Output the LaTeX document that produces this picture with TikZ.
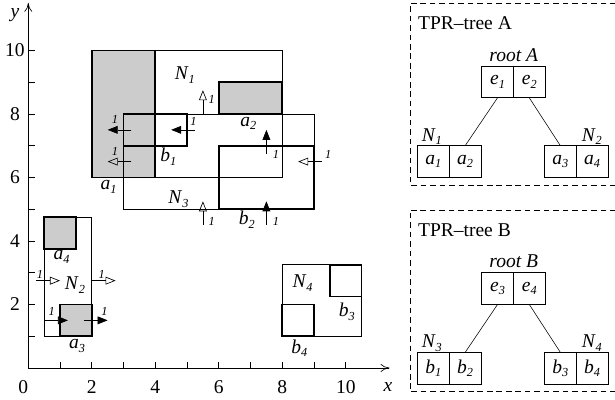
\documentclass[tikz,border=0pt]{standalone}
\usepackage{fontspec}
\setmainfont{Liberation Serif}
\usepackage{tikz}
\usetikzlibrary{arrows.meta, positioning}

\newcommand{\ixl}[2]{\textit{#1}\raisebox{-0.4ex}{\fontsize{11}{11}\selectfont\textit{#2}}}

\begin{document}
\begin{tikzpicture}[
  lab/.style      = {inner sep=0pt, font=\fontsize{17.5}{17.5}\selectfont},
  mbr/.style      = {draw, line width=0.6pt},
  obj/.style      = {draw, line width=1.5pt},
  objfill/.style  = {fill=black!20},
  velblack/.style = {-{Triangle[length=9pt,width=7pt]}, line width=0.6pt},
  velopen/.style  = {-{Triangle[open,length=9pt,width=7pt]}, line width=0.6pt},
  vnum/.style     = {inner sep=0pt, font=\fontsize{11}{11}\selectfont\itshape},
  cell/.style     = {draw, line width=0.6pt, minimum size=1.0cm, inner sep=0pt,
                     outer sep=0pt, font=\fontsize{17.5}{17.5}\selectfont},
  treebox/.style  = {draw, line width=0.6pt, dash pattern=on 5pt off 3.5pt},
  axis/.style     = {-{To[length=8pt,width=7pt]}, line width=0.6pt},
]
\useasboundingbox (-0.891,-1.008) rectangle (18.48,11.59);

%% axes
\draw[axis] (0,0) -- (11.38,0);
\draw[axis] (0,0) -- (0,11.5);
\foreach \t in {1,...,10} {
  \draw[line width=0.6pt] (\t,0) -- (\t,0.2);
  \draw[line width=0.6pt] (0,\t) -- (0.2,\t);
}
\foreach \t in {2,4,...,10} {
  \node[lab] (xt\t) at (\t,-0.59) {\t};
  \node[lab] (yt\t) at (-0.42,\t) {\t};
}
\node[lab] (zero) at (-0.16,-0.59) {0};
\node[lab] (xl) at (11.33,-0.59) {\textit{x}};
\node[lab] (yl) at (-0.42,11.1) {\textit{y}};

%% gray objects
\fill[objfill] (2,6) rectangle (4,10);
\fill[objfill] (6,8) rectangle (8,9);
\fill[objfill] (0.5,3.75) rectangle (1.5,4.75);
\fill[objfill] (1,1) rectangle (2,2);

%% bounding rectangles
\draw[mbr] (2,6) rectangle (8,10);     % N1
\draw[mbr] (3,5) rectangle (9,8);      % N3
\draw[mbr] (0.5,1) rectangle (2,4.75); % N2
\draw[mbr] (8,1) rectangle (10.5,3.25);% N4

%% objects
\draw[obj] (2,6) rectangle (4,10);       % a1
\draw[obj] (6,8) rectangle (8,9);        % a2
\draw[obj] (1,1) rectangle (2,2);        % a3
\draw[obj] (0.5,3.75) rectangle (1.5,4.75); % a4
\draw[obj] (3,7) rectangle (5,8);        % b1
\draw[obj] (6,5) rectangle (9,7);        % b2
\draw[obj] (9.5,2.25) rectangle (10.5,3.25); % b3
\draw[obj] (8,1) rectangle (9,2);        % b4

%% velocities
\foreach \st/\xa/\ya/\xb/\yb/\xn/\yn in {
  velblack/3.25/7.5/2.5/7.5/2.73/7.84,
  velblack/5.25/7.5/4.5/7.5/5.2/7.78,
  velopen/3.25/6.5/2.5/6.5/2.73/6.81,
  velopen/5.5/8/5.5/8.75/5.78/8.46,
  velblack/7.5/6.75/7.5/7.5/7.8/6.71,
  velopen/9.25/6.5/8.5/6.5/9.45/6.74,
  velopen/5.5/4.5/5.5/5.25/5.78/4.61,
  velblack/7.5/4.5/7.5/5.25/7.8/4.61,
  velopen/0.25/2.75/1.0/2.75/0.37/2.96,
  velopen/2/2.75/2.75/2.75/2.31/2.96,
  velblack/0.5/1.5/1.25/1.5/0.74/1.77,
  velblack/1.75/1.5/2.5/1.5/2.4/1.77} {
  \draw[\st] (\xa,\ya) -- (\xb,\yb);
  \node[vnum] at (\xn,\yn) {1};
}

%% labels
\node[lab] (lN1) at (4.93,9.23) {\ixl{N}{1}};
\node[lab] (lN3) at (4.73,5.31) {\ixl{N}{3}};
\node[lab] (lN2) at (1.47,2.61) {\ixl{N}{2}};
\node[lab] (lN4) at (8.64,2.67) {\ixl{N}{4}};
\node[lab] (la1) at (2.53,5.71) {\ixl{a}{1}};
\node[lab] (la2) at (6.93,7.70) {\ixl{a}{2}};
\node[lab] (la3) at (1.54,0.69) {\ixl{a}{3}};
\node[lab] (la4) at (1.05,3.49) {\ixl{a}{4}};
\node[lab] (lb1) at (4.41,6.66) {\ixl{b}{1}};
\node[lab] (lb2) at (6.88,4.66) {\ixl{b}{2}};
\node[lab] (lb3) at (10.03,1.77) {\ixl{b}{3}};
\node[lab] (lb4) at (8.54,0.62) {\ixl{b}{4}};

%% TPR-tree A
\draw[treebox] (18.8,11.49) -- (12.02,11.49) -- (12.02,5.76) -- (18.8,5.76);
\node[lab, anchor=west] (ta) at (12.27,10.86) {TPR--tree A};
\node[cell] (e1) at (14.78,9.01) {\ixl{e}{1}};
\node[cell, right=0pt of e1] (e2) {\ixl{e}{2}};
\node[lab, font=\fontsize{17.5}{17.5}\selectfont\itshape] (ra) at (15.29,9.86) {root A};
\node[cell] (ca1) at (12.76,6.50) {\ixl{a}{1}};
\node[cell, right=0pt of ca1] (ca2) {\ixl{a}{2}};
\node[cell] (ca3) at (16.76,6.50) {\ixl{a}{3}};
\node[cell, right=0pt of ca3] (ca4) {\ixl{a}{4}};
\node[lab] (tN1) at (12.71,7.29) {\ixl{N}{1}};
\node[lab] (tN2) at (17.75,7.29) {\ixl{N}{2}};
\draw[line width=0.5pt] (e1.south) -- (ca2.north);
\draw[line width=0.5pt] (e2.south) -- (ca3.north);

%% TPR-tree B
\draw[treebox] (18.8,4.98) -- (12.02,4.98) -- (12.02,-0.75) -- (18.8,-0.75);
\node[lab, anchor=west] (tb) at (12.27,4.35) {TPR--tree B};
\node[cell] (e3) at (14.78,2.50) {\ixl{e}{3}};
\node[cell, right=0pt of e3] (e4) {\ixl{e}{4}};
\node[lab, font=\fontsize{17.5}{17.5}\selectfont\itshape] (rb) at (15.29,3.35) {root B};
\node[cell] (cb1) at (12.76,-0.01) {\ixl{b}{1}};
\node[cell, right=0pt of cb1] (cb2) {\ixl{b}{2}};
\node[cell] (cb3) at (16.76,-0.01) {\ixl{b}{3}};
\node[cell, right=0pt of cb3] (cb4) {\ixl{b}{4}};
\node[lab] (tN3) at (12.71,0.78) {\ixl{N}{3}};
\node[lab] (tN4) at (17.75,0.78) {\ixl{N}{4}};
\draw[line width=0.5pt] (e3.south) -- (cb2.north);
\draw[line width=0.5pt] (e4.south) -- (cb3.north);

\end{tikzpicture}
\end{document}
